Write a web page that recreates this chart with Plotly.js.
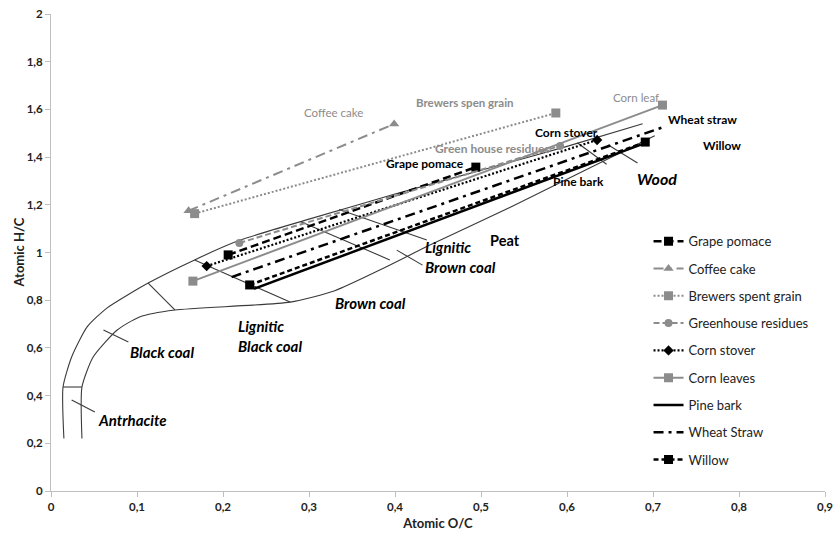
<!DOCTYPE html>
<html><head><meta charset="utf-8">
<script src="https://cdn.plot.ly/plotly-3.0.1.min.js"></script>
<style>body{margin:0;background:#fff}#c{width:838px;height:543px}</style>
</head><body><div id="c"></div>
<script>
// Biomass series (raw -> treated), atomic O/C and H/C
const seriesNames = ["Grape pomace","Coffee cake","Brewers spent grain","Greenhouse residues","Corn stover","Corn leaves","Pine bark","Wheat Straw","Willow"];
const grapeX = [0.206, 0.494], grapeY = [0.99, 1.358];
const coffeeX = [0.160, 0.399], coffeeY = [1.175, 1.539];
const brewersX = [0.167, 0.587], brewersY = [1.163, 1.585];
const greenX = [0.219, 0.592], greenY = [1.04, 1.447];
const stoverX = [0.181, 0.635], stoverY = [0.943, 1.472];
const leavesX = [0.165, 0.711], leavesY = [0.88, 1.618];
const pineX = [0.236, 0.686], pineY = [0.848, 1.452];
const wheatX = [0.210, 0.712], wheatY = [0.897, 1.526];
const willowX = [0.231, 0.691], willowY = [0.864, 1.463];

// Coalification band (van Krevelen) outline
const upperX = [0.015, 0.014, 0.024, 0.042, 0.065, 0.113, 0.167, 0.220, 0.30, 0.40, 0.50, 0.60, 0.688];
const upperY = [0.22, 0.436, 0.562, 0.688, 0.767, 0.872, 0.969, 1.052, 1.14, 1.245, 1.345, 1.445, 1.54];
const lowerX = [0.036, 0.036, 0.049, 0.077, 0.103, 0.144, 0.278, 0.33, 0.39, 0.44, 0.54, 0.702];
const lowerY = [0.22, 0.436, 0.562, 0.675, 0.73, 0.759, 0.792, 0.84, 0.94, 1.03, 1.20, 1.49];
const sepAnthX = [0.014, 0.036], sepAnthY = [0.436, 0.436];
const sepBlackX = [0.113, 0.144], sepBlackY = [0.872, 0.759];
const sepLigBlackX = [0.167, 0.278], sepLigBlackY = [0.969, 0.792];
const sepBrownX = [0.29, 0.394], sepBrownY = [1.13, 0.969];
const sepPeatX = [0.335, 0.437], sepPeatY = [1.18, 1.052];
const sepWoodX = [0.612, 0.646], sepWoodY = [1.46, 1.37];
const ptrAnthX = [0.024, 0.051], ptrAnthY = [0.382, 0.331];
const ptrBlackX = [0.061, 0.090], ptrBlackY = [0.675, 0.625];
const ptrLigBrownX = [0.402, 0.432], ptrLigBrownY = [1.01, 0.947];
const ptrWoodX = [0.648, 0.682], ptrWoodY = [1.451, 1.375];

const gray = "#8c8c8c";
const traces = [];
function bg(x, y){ traces.push({x:x, y:y, type:"scatter", mode:"lines", line:{color:"#3a3a3a", width:1.1, shape:"spline", smoothing:0.6}, showlegend:false, hoverinfo:"skip"}); }
bg(upperX, upperY); bg(lowerX, lowerY);
[[sepAnthX,sepAnthY],[sepBlackX,sepBlackY],[sepLigBlackX,sepLigBlackY],[sepBrownX,sepBrownY],[sepPeatX,sepPeatY],[sepWoodX,sepWoodY],
 [ptrAnthX,ptrAnthY],[ptrBlackX,ptrBlackY],[ptrLigBrownX,ptrLigBrownY],[ptrWoodX,ptrWoodY]].forEach(p=>bg(p[0],p[1]));

function s(i, x, y, color, dash, width, mode, sym, size){
  traces.push({x:x, y:y, name:seriesNames[i], legendgroup:"g"+i, type:"scatter", mode:mode,
    line:{color:color, dash:dash, width:width}, marker:{symbol:sym, size:size, color:color}});
}
s(0, grapeX, grapeY, "#000", "8px,4px", 2.5, "lines+markers", "square", 9);
s(1, coffeeX, coffeeY, gray, "10px,5px,3px,5px", 2, "lines+markers", "triangle-up", 9);
s(2, brewersX, brewersY, gray, "2px,2px", 2, "lines+markers", "square", 9);
s(3, greenX, greenY, gray, "6px,3px", 2, "lines+markers", "circle", 8);
s(4, stoverX, stoverY, "#000", "2px,2px", 2.2, "lines+markers", "diamond", 8);
s(5, leavesX, leavesY, gray, "solid", 2, "lines+markers", "square", 9);
s(6, pineX, pineY, "#000", "solid", 2.5, "lines", "square", 1);
s(7, wheatX, wheatY, "#000", "10px,5px,3px,5px", 2.5, "lines", "square", 1);
s(8, willowX, willowY, "#000", "5px,3px", 2.5, "lines+markers", "square", 9);

const F = "Lato, 'Open Sans', sans-serif";
function ann(t, x, y, o){ return Object.assign({text:t, x:x, y:y, xref:"x", yref:"y", showarrow:false, font:{family:F, size:12, color:"#000"}}, o||{}); }
const annotations = [
  ann("Coffee cake", 0.328, 1.585, {font:{family:F,size:11.5,color:gray}}),
  ann("<b>Brewers spen grain</b>", 0.481, 1.631, {font:{family:F,size:11.5,color:gray}}),
  ann("Corn leaf", 0.680, 1.652, {font:{family:F,size:11.5,color:gray}}),
  ann("<b>Green house residues</b>", 0.513, 1.438, {font:{family:F,size:12,color:gray}}),
  ann("<b>Grape pomace</b>", 0.435, 1.375),
  ann("<b>Corn stover</b>", 0.599, 1.505),
  ann("<b>Wheat straw</b>", 0.757, 1.556),
  ann("<b>Willow</b>", 0.780, 1.447),
  ann("<b>Pine bark</b>", 0.613, 1.296),
  ann("<b><i>Wood</i></b>", 0.705, 1.312, {font:{family:F,size:16,color:"#000"}}),
  ann("<b>Peat</b>", 0.528, 1.052, {font:{family:F,size:14.5,color:"#000"}}),
  ann("<b><i>Lignitic<br>Brown coal</i></b>", 0.432, 0.981, {xanchor:"left", align:"left", font:{family:F,size:15,color:"#000"}}),
  ann("<b><i>Brown coal</i></b>", 0.372, 0.788, {font:{family:F,size:15,color:"#000"}}),
  ann("<b><i>Lignitic<br>Black coal</i></b>", 0.215, 0.65, {xanchor:"left", align:"left", font:{family:F,size:15,color:"#000"}}),
  ann("<b><i>Black coal</i></b>", 0.129, 0.583, {font:{family:F,size:15,color:"#000"}}),
  ann("<b><i>Antrhacite</i></b>", 0.095, 0.298, {font:{family:F,size:15,color:"#000"}}),
  {text:"<b>Atomic H/C</b>", xref:"paper", yref:"paper", x:-0.0426, y:0.5, xanchor:"center", yanchor:"middle", textangle:-90, showarrow:false, font:{family:F, size:13, color:"#222"}}
];

const layout = {
  width:838, height:543, margin:{l:51, r:13, t:14, b:52},
  paper_bgcolor:"#fff", plot_bgcolor:"#fff", separators:",.",
  font:{family:F, size:11, color:"#222"},
  xaxis:{range:[0,0.9], dtick:0.1, tick0:0, showgrid:false, zeroline:false, showline:true, linecolor:"#bfbfbf", linewidth:1,
    ticks:"outside", ticklen:5, tickcolor:"#bfbfbf", tickfont:{family:F, size:11.5, color:"#222", weight:"bold"},
    title:{text:"<b>Atomic O/C</b>", font:{family:F, size:13, color:"#222"}, standoff:7}},
  yaxis:{range:[0,2], dtick:0.2, tick0:0, showgrid:false, zeroline:false, showline:true, linecolor:"#bfbfbf", linewidth:1,
    ticks:"outside", ticklen:5, tickcolor:"#bfbfbf", tickfont:{family:F, size:11.5, color:"#222", weight:"bold"}},
  showlegend:true,
  legend:{x:0.772, y:0.555, xanchor:"left", yanchor:"top", bgcolor:"rgba(255,255,255,0)", font:{family:F, size:13, color:"#222"}, tracegroupgap:7.4, itemwidth:30},
  annotations:annotations
};
Plotly.newPlot("c", traces, layout, {staticPlot:true, displayModeBar:false});
</script></body></html>
